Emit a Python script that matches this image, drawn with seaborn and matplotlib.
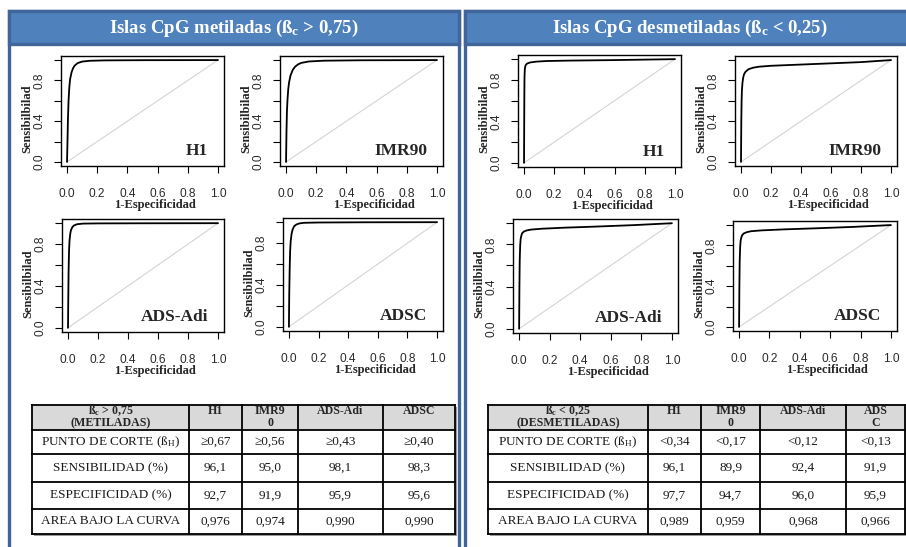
import matplotlib
matplotlib.use("Agg")
import matplotlib.pyplot as plt
from matplotlib.patches import Rectangle
import pandas as pd
import seaborn as sns

# ---------------- data ----------------
TITLE_MET = "Islas CpG metiladas (ß$_c$ > 0,75)"
TITLE_DES = "Islas CpG desmetiladas (ß$_c$ < 0,25)"
LINES = ["H1", "IMR90", "ADS-Adi", "ADSC"]
X_LABEL = "1-Especificidad"
Y_LABEL = "Sensibilbilad"
TICKS = [0.0, 0.2, 0.4, 0.6, 0.8, 1.0]
X_TICK_LABELS = ["0.0", "0.2", "0.4", "0.6", "0.8", "1.0"]
Y_TICK_LABELS = ["0.0", "", "0.4", "", "0.8", ""]
DIAG = [0.0, 1.0]

# ROC curves, metiladas
MET_H1_FPR = [0, 0.003, 0.006, 0.01, 0.015, 0.02, 0.03, 0.04, 0.05, 0.07, 0.1, 0.15, 0.25, 0.5, 1.0]
MET_H1_TPR = [0, 0.2, 0.42, 0.6, 0.73, 0.81, 0.88, 0.92, 0.945, 0.97, 0.985, 0.993, 0.997, 0.999, 1.0]
MET_IMR90_FPR = [0, 0.003, 0.006, 0.01, 0.015, 0.02, 0.03, 0.045, 0.06, 0.08, 0.1, 0.15, 0.25, 0.5, 1.0]
MET_IMR90_TPR = [0, 0.3, 0.5, 0.62, 0.72, 0.78, 0.85, 0.905, 0.935, 0.958, 0.972, 0.986, 0.994, 0.998, 1.0]
MET_ADSADI_FPR = [0, 0.002, 0.004, 0.007, 0.01, 0.015, 0.02, 0.03, 0.04, 0.06, 0.1, 0.2, 0.5, 1.0]
MET_ADSADI_TPR = [0, 0.3, 0.55, 0.74, 0.83, 0.9, 0.935, 0.965, 0.978, 0.99, 0.996, 0.998, 0.999, 1.0]
MET_ADSC_FPR = [0, 0.002, 0.005, 0.008, 0.012, 0.018, 0.025, 0.035, 0.05, 0.07, 0.1, 0.2, 0.5, 1.0]
MET_ADSC_TPR = [0, 0.3, 0.55, 0.72, 0.82, 0.89, 0.93, 0.96, 0.978, 0.988, 0.994, 0.997, 0.999, 1.0]

# ROC curves, desmetiladas
DES_H1_FPR = [0, 0.001, 0.002, 0.003, 0.005, 0.008, 0.012, 0.02, 0.04, 0.08, 0.15, 0.3, 0.6, 1.0]
DES_H1_TPR = [0, 0.35, 0.65, 0.82, 0.9, 0.93, 0.945, 0.957, 0.968, 0.976, 0.982, 0.986, 0.991, 1.0]
DES_IMR90_FPR = [0, 0.002, 0.004, 0.006, 0.01, 0.015, 0.02, 0.03, 0.05, 0.08, 0.12, 0.2, 0.35, 0.55, 0.8, 1.0]
DES_IMR90_TPR = [0, 0.4, 0.6, 0.7, 0.78, 0.83, 0.86, 0.885, 0.91, 0.925, 0.935, 0.944, 0.953, 0.965, 0.98, 1.0]
DES_ADSADI_FPR = [0, 0.002, 0.004, 0.007, 0.01, 0.015, 0.02, 0.03, 0.05, 0.08, 0.15, 0.3, 0.5, 0.75, 1.0]
DES_ADSADI_TPR = [0, 0.4, 0.65, 0.79, 0.85, 0.885, 0.905, 0.92, 0.932, 0.94, 0.948, 0.958, 0.968, 0.982, 1.0]
DES_ADSC_FPR = [0, 0.002, 0.004, 0.007, 0.01, 0.015, 0.02, 0.03, 0.05, 0.08, 0.15, 0.3, 0.5, 0.75, 1.0]
DES_ADSC_TPR = [0, 0.4, 0.64, 0.78, 0.845, 0.88, 0.9, 0.917, 0.93, 0.94, 0.948, 0.958, 0.968, 0.982, 1.0]

# tables
ROW_LABELS = ["PUNTO DE CORTE (ß$_H$)", "SENSIBILIDAD (%)", "ESPECIFICIDAD (%)", "AREA BAJO LA CURVA"]
MET_HEAD = [["ß$_c$ > 0,75", "(METILADAS)"], ["H1"], ["IMR9", "0"], ["ADS-Adi"], ["ADSC"]]
DES_HEAD = [["ß$_c$ < 0,25", "(DESMETILADAS)"], ["H1"], ["IMR9", "0"], ["ADS-Adi"], ["ADS", "C"]]
MET_CUT = ["≥0,67", "≥0,56", "≥0,43", "≥0,40"]
MET_SENS = [96.1, 95.0, 98.1, 98.3]
MET_SPEC = [92.7, 91.9, 95.9, 95.6]
MET_AUC = [0.976, 0.974, 0.990, 0.990]
DES_CUT = ["<0,34", "<0,17", "<0,12", "<0,13"]
DES_SENS = [96.1, 89.9, 92.4, 91.9]
DES_SPEC = [97.7, 94.7, 96.0, 95.9]
DES_AUC = [0.989, 0.959, 0.968, 0.966]

# ---------------- style ----------------
sns.set_theme(style="ticks")
SERIF = ["Liberation Serif", "DejaVu Serif"]
SANS = ["Liberation Sans", "DejaVu Sans"]
plt.rcParams["font.family"] = SANS
plt.rcParams["mathtext.default"] = "regular"

W, H = 906, 547
fig = plt.figure(figsize=(W / 100, H / 100), dpi=100)


def fbox(x0, y0, x1, y1):
    return [x0 / W, 1 - y1 / H, (x1 - x0) / W, (y1 - y0) / H]


bg = fig.add_axes([0, 0, 1, 1])
bg.set_xlim(0, W)
bg.set_ylim(H, 0)
bg.axis("off")

BORDER = "#3f659a"
HEAD = "#4f81bd"

# panels
for (px, pw, title, tx) in [(9, 450, TITLE_MET, 234), (465, 470, TITLE_DES, 690)]:
    bg.add_patch(Rectangle((px, 11), pw, 600, facecolor="white", edgecolor=BORDER, lw=2.4, zorder=1))
    bg.add_patch(Rectangle((px, 11), pw, 33, facecolor=HEAD, edgecolor=BORDER, lw=2.4, zorder=2))
    bg.text(tx, 28, title, color="white", fontsize=13.5, fontweight="bold", family=SERIF,
            ha="center", va="center", zorder=3)

# ROC plots
PLOTS = [
    ((61, 56, 224, 166), MET_H1_FPR, MET_H1_TPR, LINES[0]),
    ((280, 56, 443, 166), MET_IMR90_FPR, MET_IMR90_TPR, LINES[1]),
    ((62, 219, 224, 332), MET_ADSADI_FPR, MET_ADSADI_TPR, LINES[2]),
    ((283, 218, 443, 331), MET_ADSC_FPR, MET_ADSC_TPR, LINES[3]),
    ((518, 55, 681, 167), DES_H1_FPR, DES_H1_TPR, LINES[0]),
    ((735, 56, 897, 166), DES_IMR90_FPR, DES_IMR90_TPR, LINES[1]),
    ((513, 219, 678, 333), DES_ADSADI_FPR, DES_ADSADI_TPR, LINES[2]),
    ((733, 221, 897, 331), DES_ADSC_FPR, DES_ADSC_TPR, LINES[3]),
]

for box, fpr, tpr, name in PLOTS:
    ax = fig.add_axes(fbox(*box))
    sns.lineplot(x=DIAG, y=DIAG, ax=ax, color="#d4d4d4", lw=0.8, estimator=None)
    sns.lineplot(x=fpr, y=tpr, ax=ax, color="black", lw=1.3, sort=False, estimator=None)
    ax.set_xlim(-0.04, 1.04)
    ax.set_ylim(-0.04, 1.04)
    ax.set_xticks(TICKS)
    ax.set_xticklabels(X_TICK_LABELS)
    ax.set_yticks(TICKS)
    ax.set_yticklabels(Y_TICK_LABELS, rotation=90, va="center")
    ax.tick_params(axis="x", length=5, width=0.8, pad=10.5, labelsize=8.6, colors="black",
                   labelcolor="#2a2a2a")
    ax.tick_params(axis="y", length=5, width=0.8, pad=6.5, labelsize=8.6, colors="black",
                   labelcolor="#2a2a2a")
    for s in ax.spines.values():
        s.set_color("black")
        s.set_linewidth(1.0)
    ax.set_xlabel("")
    ax.set_ylabel("")
    x0, y0, x1, y1 = box
    bw = x1 - x0
    bh = y1 - y0
    ax.text(0.5 + 12 / bw, -39 / bh, X_LABEL, transform=ax.transAxes, ha="center", va="center",
            fontsize=9, fontweight="bold", family=SERIF)
    ax.text(-34 / bw, 0.43, Y_LABEL, transform=ax.transAxes, ha="center", va="center",
            rotation=90, fontsize=9, fontweight="bold", family=SERIF)
    ax.text(1 - 16 / bw, 0.1, name, transform=ax.transAxes, ha="right", va="baseline",
            fontsize=12.5, fontweight="bold", family=SERIF)


# tables
def fmt1(v):
    return f"{v:.1f}".replace(".", ",")


def fmt3(v):
    return f"{v:.3f}".replace(".", ",")


ROWS_Y = [405, 430, 454, 482, 509, 534]


def draw_table(cols, head, cut, sens, spec, auc):
    body = [cut, [fmt1(v) for v in sens], [fmt1(v) for v in spec], [fmt3(v) for v in auc]]
    x0, x1 = cols[0], cols[-1]
    y0, y1 = ROWS_Y[0], ROWS_Y[-1]
    # shadow
    bg.add_patch(Rectangle((x0 + 2, y0 + 2), x1 - x0, y1 - y0, facecolor="#9a9a9a",
                           edgecolor="none", zorder=4))
    bg.add_patch(Rectangle((x0, y0), x1 - x0, ROWS_Y[1] - y0, facecolor="#d9d9d9",
                           edgecolor="none", zorder=5))
    bg.add_patch(Rectangle((x0, ROWS_Y[1]), x1 - x0, y1 - ROWS_Y[1], facecolor="white",
                           edgecolor="none", zorder=5))
    for x in cols:
        bg.plot([x, x], [y0, y1], color="black", lw=1.3, zorder=6, solid_capstyle="projecting")
    for y in ROWS_Y:
        bg.plot([x0, x1], [y, y], color="black", lw=1.3, zorder=6, solid_capstyle="projecting")
    # header
    for j, lines in enumerate(head):
        cx = (cols[j] + cols[j + 1]) / 2
        for k, t in enumerate(lines):
            bg.text(cx, 414.5 + 11.5 * k, t, ha="center", va="baseline", fontsize=8.6,
                    fontweight="bold", family=SERIF, zorder=7)
    # body
    for i in range(4):
        cy = (ROWS_Y[i + 1] + ROWS_Y[i + 2]) / 2
        bg.text((cols[0] + cols[1]) / 2, cy, ROW_LABELS[i], ha="center", va="center",
                fontsize=9.5, family=SERIF, color="#1a1a1a", zorder=7)
        for j in range(4):
            bg.text((cols[j + 1] + cols[j + 2]) / 2, cy, body[i][j], ha="center", va="center",
                    fontsize=9.5, family=SERIF, color="#1a1a1a", zorder=7)


draw_table([32, 189, 242, 298, 383, 455], MET_HEAD, MET_CUT, MET_SENS, MET_SPEC, MET_AUC)
draw_table([488, 648, 701, 760, 846, 905], DES_HEAD, DES_CUT, DES_SENS, DES_SPEC, DES_AUC)

fig.savefig("out.png", dpi=100)
